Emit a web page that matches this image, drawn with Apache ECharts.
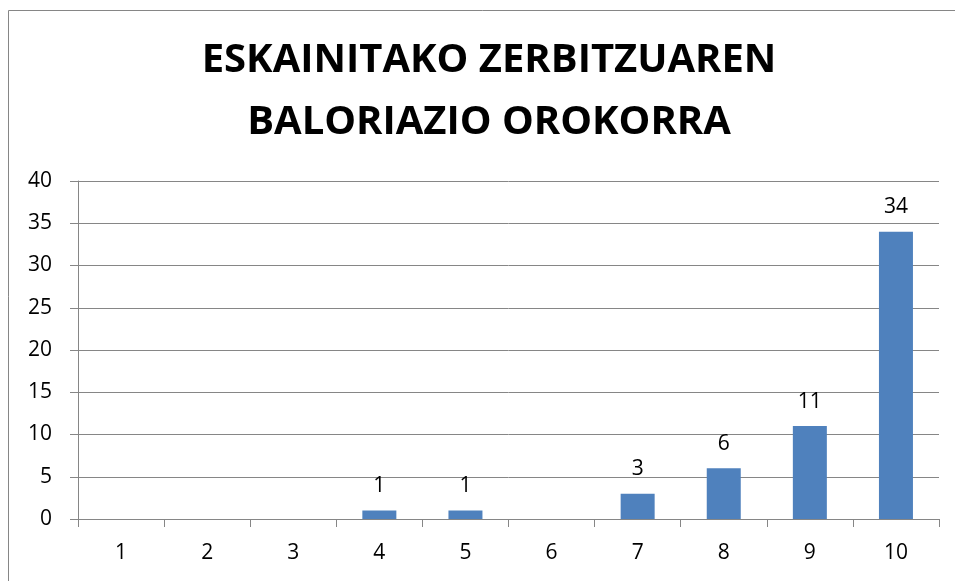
<!DOCTYPE html>
<html>
<head>
<meta charset="utf-8">
<script src="https://cdn.jsdelivr.net/npm/echarts@6/dist/echarts.min.js"></script>
<style>
  html, body { margin: 0; padding: 0; background: #fff; }
  #chart { width: 955px; height: 581px; }
</style>
</head>
<body>
<div id="chart"></div>
<script>
// balorazioak 1-10
const categories = ["1", "2", "3", "4", "5", "6", "7", "8", "9", "10"];
const counts = [0, 0, 0, 1, 1, 0, 3, 6, 11, 34];
const titleLines = ["ESKAINITAKO ZERBITZUAREN", "BALORIAZIO OROKORRA"];

const font = "'Open Sans', 'DejaVu Sans', sans-serif";
const gray = "#868686";

const myChart = echarts.init(document.getElementById("chart"));

const option = {
  animation: false,
  backgroundColor: "#fff",
  title: {
    text: titleLines.join("\n"),
    left: 484,
    top: 25,
    textAlign: "center",
    textStyle: {
      fontFamily: font,
      fontWeight: "bold",
      fontSize: 40,
      lineHeight: 62,
      color: "#000",
    },
  },
  graphic: [
    {
      type: "rect",
      shape: { x: 8.5, y: 10.5, width: 1000, height: 1000 },
      style: { fill: "none", stroke: gray, lineWidth: 1 },
      silent: true,
    },
  ],
  grid: {
    left: 78,
    right: 16,
    top: 181,
    bottom: 62,
  },
  xAxis: {
    type: "category",
    data: categories,
    axisLine: { lineStyle: { color: gray, width: 1 } },
    axisTick: { show: true, length: 8, lineStyle: { color: gray } },
    axisLabel: { color: "#000", fontFamily: font, fontSize: 21, margin: 24 },
  },
  yAxis: {
    type: "value",
    min: 0,
    max: 40,
    interval: 5,
    axisLine: { show: true, lineStyle: { color: gray, width: 1 } },
    axisTick: { show: true, length: 8, lineStyle: { color: gray } },
    axisLabel: { color: "#000", fontFamily: font, fontSize: 21, margin: 26 },
    splitLine: { show: true, lineStyle: { color: gray, width: 1 } },
  },
  series: [
    {
      type: "bar",
      data: counts,
      barWidth: 34,
      itemStyle: {
        color: "#4F81BD",
        borderWidth: 0,
      },
      label: {
        show: true,
        position: "top",
        distance: 14,
        color: "#000",
        fontFamily: font,
        fontSize: 21,
        formatter: (p) => (p.value === 0 ? "" : String(p.value)),
      },
    },
  ],
};

myChart.setOption(option);
</script>
</body>
</html>
